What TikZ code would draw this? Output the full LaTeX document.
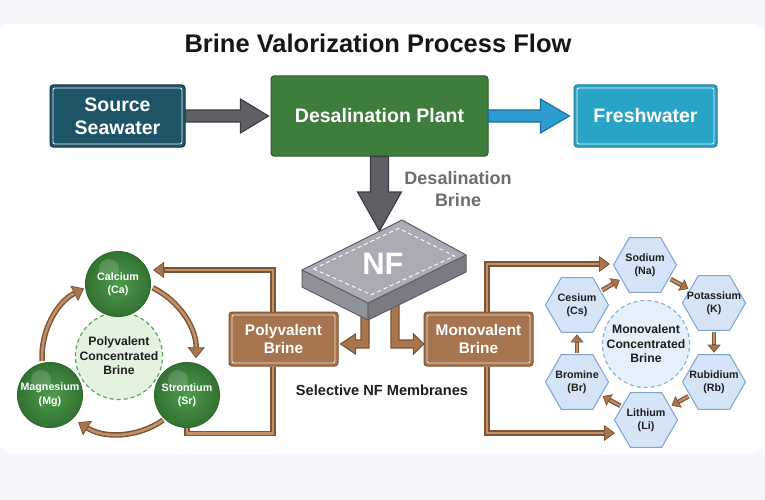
\documentclass[tikz,border=0pt]{standalone}
\usepackage{fontspec}
\setmainfont{Liberation Sans}
\usetikzlibrary{arrows.meta,shapes.geometric,calc}
\definecolor{bgc}{HTML}{F6F8FC}
\definecolor{titlec}{HTML}{161616}
\definecolor{srcF}{HTML}{1E5468}
\definecolor{srcD}{HTML}{133B49}
\definecolor{dpF}{HTML}{3F7D3C}
\definecolor{dpD}{HTML}{2A5928}
\definecolor{fwF}{HTML}{2AA4C6}
\definecolor{fwD}{HTML}{1D7F9C}
\definecolor{grayF}{HTML}{5C6165}
\definecolor{grayD}{HTML}{3A3E42}
\definecolor{blueF}{HTML}{2C9BD0}
\definecolor{blueD}{HTML}{1C6E9C}
\definecolor{brownM}{HTML}{A8764E}
\definecolor{brownD}{HTML}{7D5435}
\definecolor{brownL}{HTML}{C39167}
\definecolor{brownBox}{HTML}{A67550}
\definecolor{brownIn}{HTML}{F2E4D6}
\definecolor{greenL}{HTML}{4E9C4B}
\definecolor{greenD}{HTML}{2D6B2E}
\definecolor{pcF}{HTML}{E4F2E0}
\definecolor{pcD}{HTML}{5CA35A}
\definecolor{hexF}{HTML}{D5E5F7}
\definecolor{hexD}{HTML}{7CA3D1}
\definecolor{mcF}{HTML}{E6F0FA}
\definecolor{mcD}{HTML}{8BB3D9}
\definecolor{slabTop}{HTML}{A9ADB3}
\definecolor{slabLeft}{HTML}{8E9399}
\definecolor{slabRight}{HTML}{777C82}
\definecolor{slabD}{HTML}{5B6167}
\definecolor{txtgray}{HTML}{6A6E72}
\definecolor{txtdark}{HTML}{1E1E1E}
\newcommand\innerframe[2]{\draw[#2, line width=0.9pt, rounded corners=2pt] ([shift={(3.5pt,-3.5pt)}]#1.north west) rectangle ([shift={(-3.5pt,3.5pt)}]#1.south east);}
\tikzset{
  bigbox/.style={draw, line width=1pt, rounded corners=3pt, text=white, align=center,
    font=\bfseries\fontsize{19.5}{23}\selectfont, inner sep=0pt},
  brownbox/.style={draw=brownD, fill=brownBox, line width=1pt, rounded corners=3pt, text=white, align=center,
    font=\bfseries\fontsize{15.4}{18}\selectfont, inner sep=0pt, minimum width=109pt, minimum height=54pt},
  ball/.style={circle, draw=greenD, line width=1pt, inner color=greenL, outer color=greenD!85!greenL,
    minimum size=65pt, inner sep=0pt, outer sep=0pt, text=white, align=center,
    font=\bfseries\fontsize{10.7}{13.5}\selectfont,
    path picture={\fill[white,opacity=0.16] ($(path picture bounding box.center)+(-9,-15)$) circle (10pt);}},
  hexa/.style={regular polygon, regular polygon sides=6, minimum size=63pt, inner sep=0pt, outer sep=0pt,
    draw=hexD, fill=hexF, line width=1pt},
  hextext/.style={align=center, text=txtdark, inner sep=0pt, font=\bfseries\fontsize{10.7}{13.5}\selectfont},
  centre/.style={circle, dash pattern=on 4pt off 3pt, line width=1.2pt, inner sep=0pt, minimum size=86pt,
    align=center, text=txtdark, font=\bfseries\fontsize{12.2}{14.5}\selectfont},
  conn/.style={line width=5.5pt, draw=brownD, line join=miter,
    -{Triangle[length=11pt,width=16pt,line width=0.8pt,fill=brownM]},
    postaction={draw=brownL, line width=2.6pt, -, shorten >=11.5pt}},
  connplain/.style={line width=5.5pt, draw=brownD, line join=miter,
    postaction={draw=brownL, line width=2.6pt}},
  arcarr/.style={line width=5.5pt, draw=brownD,
    -{Triangle[length=11pt,width=17pt,line width=0.8pt,fill=brownM]},
    postaction={draw=brownL, line width=2.6pt, -, shorten >=11.5pt}},
  hexarr/.style={line width=4.6pt, draw=brownD, shorten <=2pt, shorten >=2pt,
    -{Triangle[length=8pt,width=13pt,line width=0.7pt,fill=brownM]},
    postaction={draw=brownL, line width=2pt, -, shorten >=10.5pt}},
  blockarr/.style={line width=1.1pt, line join=miter}
}
\begin{document}
\begin{tikzpicture}[x=1pt,y=-1pt]
\useasboundingbox (0,0) rectangle (765,500);
\fill[bgc] (0,0) rectangle (765,500);
\fill[white, rounded corners=10pt] (0,24) rectangle (763,453);

% title
\node[text=titlec, font=\bfseries\fontsize{25.5}{30}\selectfont] (title) at (378,43) {Brine Valorization Process Flow};

% top row
\node[bigbox, draw=srcD, fill=srcF, minimum width=135pt, minimum height=62pt] (src) at (117.5,116) {Source\\Seawater};
\innerframe{src}{white!90!srcF}
\node[bigbox, draw=dpD, fill=dpF, minimum width=217pt, minimum height=80pt] (dp) at (379.5,116) {Desalination Plant};
\node[bigbox, draw=fwD, fill=fwF, minimum width=143pt, minimum height=62pt] (fw) at (645.5,116) {Freshwater};
\innerframe{fw}{white!90!fwF}

% gray arrow source -> plant
\draw[blockarr, draw=grayD, fill=grayF]
  ($(src.east)+(0,-6)$) -- ($(dp.west)+(-30,-6)$) -- ($(dp.west)+(-30,-17)$) -- ($(dp.west)+(-2,0)$)
  -- ($(dp.west)+(-30,17)$) -- ($(dp.west)+(-30,6)$) -- ($(src.east)+(0,6)$) -- cycle;
% blue arrow plant -> freshwater
\draw[blockarr, draw=blueD, fill=blueF]
  ($(dp.east)+(0,-6)$) -- ($(fw.west)+(-33,-6)$) -- ($(fw.west)+(-33,-17)$) -- ($(fw.west)+(-4,0)$)
  -- ($(fw.west)+(-33,17)$) -- ($(fw.west)+(-33,6)$) -- ($(dp.east)+(0,6)$) -- cycle;

\node[text=txtgray, align=center, font=\bfseries\fontsize{18}{22}\selectfont] (dbr) at (458,189) {Desalination\\Brine};

% brine boxes
\node[brownbox] (poly) at (283.5,339) {Polyvalent\\Brine};
\innerframe{poly}{brownIn}
\node[brownbox] (mono) at (478.5,339) {Monovalent\\Brine};
\innerframe{mono}{brownIn}

% brown block arrows out of NF (behind slab)
\draw[blockarr, draw=brownD, fill=brownM]
  (361,290) -- (369,290) -- (369,348) -- ($(poly.east)+(17,9)$) -- ($(poly.east)+(17,15)$) -- ($(poly.east)+(2,5)$)
  -- ($(poly.east)+(17,-5)$) -- ($(poly.east)+(17,1)$) -- (361,340) -- cycle;
\draw[blockarr, draw=brownD, fill=brownM]
  (399,290) -- (391,290) -- (391,348) -- ($(mono.west)+(-10,9)$) -- ($(mono.west)+(-10,15)$) -- ($(mono.west)+(0,5)$)
  -- ($(mono.west)+(-10,-5)$) -- ($(mono.west)+(-10,1)$) -- (399,340) -- cycle;

% NF slab
\coordinate (nfL) at (302,270);
\coordinate (nfT) at (402,220);
\coordinate (nfR) at (466,255);
\coordinate (nfB) at (368,303);
\filldraw[fill=slabLeft, draw=slabD, line width=1pt, line join=round] (nfL) -- (nfB) -- ($(nfB)+(0,17)$) -- ($(nfL)+(0,17)$) -- cycle;
\filldraw[fill=slabRight, draw=slabD, line width=1pt, line join=round] (nfB) -- (nfR) -- ($(nfR)+(0,17)$) -- ($(nfB)+(0,17)$) -- cycle;
\filldraw[fill=slabTop, draw=slabD, line width=1pt, line join=round] (nfL) -- (nfT) -- (nfR) -- (nfB) -- cycle;
\draw[white, dash pattern=on 4pt off 3pt, line width=0.9pt]
  ($(nfL)!0.07!(nfR)$) -- ($(nfT)!0.1!(nfB)$) -- ($(nfR)!0.07!(nfL)$) -- ($(nfB)!0.1!(nfT)$) -- cycle;
\node[text=white, font=\bfseries\fontsize{31}{31}\selectfont] (nf) at (383,264) {NF};

% down arrow plant -> NF
\coordinate (nftip) at (379.5,231);
\draw[blockarr, draw=grayD, fill=grayF]
  ($(dp.south)+(-9,0)$) -- ($(nftip)+(-9,-39)$) -- ($(nftip)+(-22,-39)$) -- (nftip)
  -- ($(nftip)+(22,-39)$) -- ($(nftip)+(9,-39)$) -- ($(dp.south)+(9,0)$) -- cycle;

\node[text=txtdark, font=\bfseries\fontsize{14.6}{17}\selectfont] (sel) at (382,390) {Selective NF Membranes};

% polyvalent cycle
\node[centre, draw=pcD, fill=pcF] (pc) at (119,356) {Polyvalent\\Concentrated\\Brine};
\coordinate (ac) at (119,357);
\draw[arcarr] (ac) ++(-64:77) arc[start angle=-64, end angle=1, radius=77];
\draw[arcarr] (ac) ++(55:77) arc[start angle=55, end angle=122, radius=77];
\draw[arcarr] (ac) ++(177:77) arc[start angle=177, end angle=243, radius=77];

\node[ball] (ca) at (118,284) {Calcium\\(Ca)};
\node[ball] (sr) at (187,395) {Strontium\\(Sr)};
\node[ball] (mg) at (50,395) {Magnesium\\(Mg)};

% polyvalent connectors
\coordinate (cain) at (153,270);
\draw[conn] ([xshift=-10.5pt]poly.north) |- (cain);
\draw[connplain] ([xshift=-10.5pt]poly.south) |- ([yshift=-6pt]sr.south) -- (sr.south);

% monovalent cycle
\node[centre, draw=mcD, fill=mcF] (mc) at (646,344) {Monovalent\\Concentrated\\Brine};
\node[hexa] (na) at (645,265) {};
\node[hexa] (k) at (714,303) {};
\node[hexa] (rb) at (714,382) {};
\node[hexa] (li) at (646,420) {};
\node[hexa] (br) at (577,382) {};
\node[hexa] (cs) at (577,305) {};
\node[hextext] (natx) at (na) {Sodium\\(Na)};
\node[hextext] (ktx) at (k) {Potassium\\(K)};
\node[hextext] (rbtx) at (rb) {Rubidium\\(Rb)};
\node[hextext] (litx) at (li) {Lithium\\(Li)};
\node[hextext] (brtx) at (br) {Bromine\\(Br)};
\node[hextext] (cstx) at (cs) {Cesium\\(Cs)};
\draw[hexarr] (na) -- (k);
\draw[hexarr] (k) -- (rb);
\draw[hexarr] (rb) -- (li);
\draw[hexarr] (li) -- (br);
\draw[hexarr] (br) -- (cs);
\draw[hexarr] (cs) -- (na);

% monovalent connectors
\coordinate (nain) at (610,264);
\coordinate (liin) at (615,433);
\draw[conn] ([xshift=8.5pt]mono.north) |- (nain);
\draw[conn] ([xshift=8.5pt]mono.south) |- (liin);
\end{tikzpicture}
\end{document}
